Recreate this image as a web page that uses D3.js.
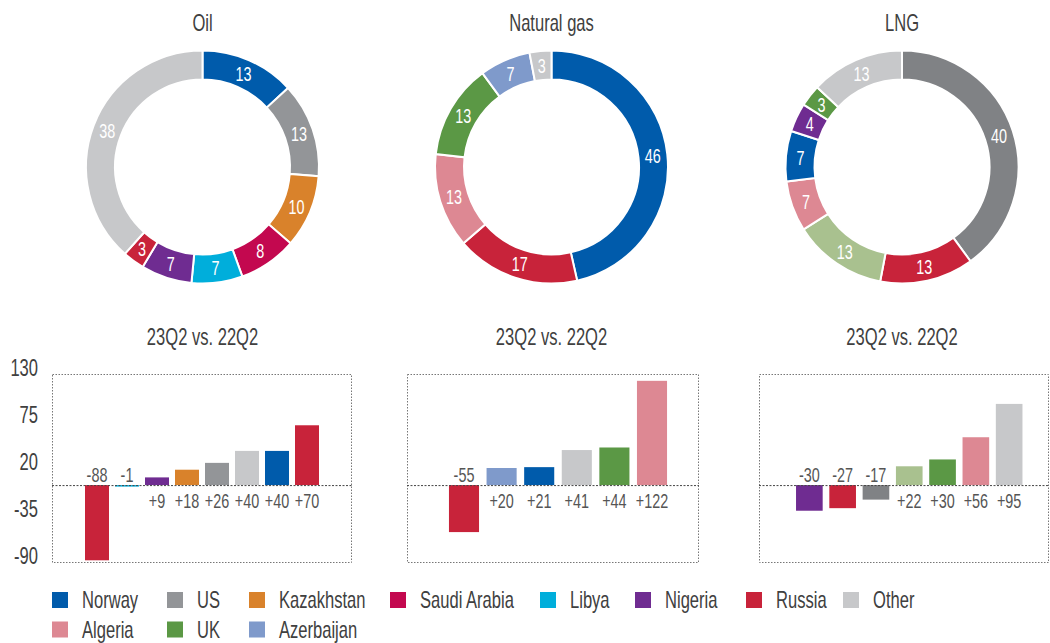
<!DOCTYPE html>
<html><head><meta charset="utf-8">
<script src="https://cdn.jsdelivr.net/npm/d3@7"></script>
<style>
html,body{margin:0;padding:0;background:#fff;}
svg{display:block;font-family:"Liberation Sans",Arial,sans-serif;}
</style></head>
<body><svg id="c" width="1050" height="643"></svg>
<script>
// ---- data ----
const colors = {
  "Norway":"#005bab","US":"#939598","US (LNG)":"#808285","Kazakhstan":"#d9822b",
  "Saudi Arabia":"#c3084f","Libya":"#00aedb","Nigeria":"#6f2c91","Russia":"#c8233a",
  "Other":"#c7c8ca","Algeria":"#dd8893","UK":"#5b9845","Azerbaijan":"#7f9acb","Other supplier":"#a9c18f"
};
const donutTitles = ["Oil","Natural gas","LNG"];
const oilShareCats = ["Norway","US","Kazakhstan","Saudi Arabia","Libya","Nigeria","Russia","Other"];
const oilShareVals = [13,13,10,8,7,7,3,38];
const gasShareCats = ["Norway","Russia","Algeria","UK","Azerbaijan","Other"];
const gasShareVals = [46,17,13,13,7,3];
const lngShareCats = ["US (LNG)","Russia","Other supplier","Algeria","Norway","Nigeria","UK","Other"];
const lngShareVals = [40,13,13,7,7,4,3,13];

const barTitle = "23Q2 vs. 22Q2";
const oilChgCats = ["Russia","Libya","Nigeria","Kazakhstan","US","Other","Norway","Russia"];
const oilChgVals = [-88,-1,9,18,26,40,40,70];
const gasChgCats = ["Russia","Azerbaijan","Norway","Other","UK","Algeria"];
const gasChgVals = [-55,20,21,41,44,122];
const lngChgCats = ["Nigeria","Russia","US (LNG)","Other supplier","UK","Algeria","Other"];
const lngChgVals = [-30,-27,-17,22,30,56,95];
const yTicks = [130,75,20,-35,-90];

const legendRow1 = ["Norway","US","Kazakhstan","Saudi Arabia","Libya","Nigeria","Russia","Other"];
const legendRow2 = ["Algeria","UK","Azerbaijan"];

// ---- layout ----
const SX = 0.72; // condensed look
const svg = d3.select("#c");
const textCol = "#404040";
const centersX = [202.5, 551.5, 902];
const donutCY = 167, Ro = 116.5, Ri = 87.5;

function place(sel, fx, fy){
  return sel.attr("transform", (d,i)=>`translate(${typeof fx==="function"?fx(d,i):fx},${typeof fy==="function"?fy(d,i):fy}) scale(${SX},1)`);
}

const shares = [[oilShareCats,oilShareVals],[gasShareCats,gasShareVals],[lngShareCats,lngShareVals]];
const pie = d3.pie().sort(null).value(d=>d.v);
const arc = d3.arc().innerRadius(Ri).outerRadius(Ro);
const labelArc = d3.arc().innerRadius((Ri+Ro)/2).outerRadius((Ri+Ro)/2);

shares.forEach(([cats,vals],i)=>{
  const data = cats.map((c,j)=>({c, v:vals[j]}));
  const g = svg.append("g").attr("transform",`translate(${centersX[i]},${donutCY})`);
  const arcs = pie(data);
  g.selectAll("path").data(arcs).join("path")
    .attr("d",arc).attr("fill",d=>colors[d.data.c])
    .attr("stroke","#fff").attr("stroke-width",2);
  place(g.selectAll("text").data(arcs).join("text"),
        d=>labelArc.centroid(d)[0], d=>labelArc.centroid(d)[1])
    .attr("text-anchor","middle").attr("dy","0.36em")
    .attr("fill","#fff").attr("font-size",20)
    .text(d=>d.data.v);
  place(svg.append("text"), centersX[i], 30.5)
    .attr("text-anchor","middle").attr("font-size",23).attr("fill",textCol)
    .text(donutTitles[i]);
});

// bar charts
const y = d3.scaleLinear().domain([-90,130]).range([562,374]);
const frames = [
  {x0:52, x1:352, r:[82,322], cats:oilChgCats, vals:oilChgVals},
  {x0:407, x1:699, r:[445.2,670.8], cats:gasChgCats, vals:gasChgVals},
  {x0:759, x1:1049, r:[792.7,1025.8], cats:lngChgCats, vals:lngChgVals}
];
frames.forEach((f,i)=>{
  const g = svg.append("g");
  place(svg.append("text"), centersX[i], 344.5)
    .attr("text-anchor","middle").attr("font-size",23).attr("fill",textCol).text(barTitle);
  g.append("rect").attr("x",f.x0+0.5).attr("y",y(130)+0.5)
    .attr("width",f.x1-f.x0-1).attr("height",y(-90)-y(130))
    .attr("fill","none").attr("stroke","#777").attr("stroke-width",1).attr("stroke-dasharray","1.5,1.5");
  const idx = d3.range(f.vals.length);
  const x = d3.scaleBand().domain(idx).range(f.r).paddingInner(0.2).paddingOuter(0.1);
  g.selectAll("rect.bar").data(idx).join("rect").attr("class","bar")
    .attr("x",j=>x(j)).attr("width",x.bandwidth())
    .attr("y",j=>y(Math.max(0,f.vals[j])))
    .attr("height",j=>Math.max(1.5,Math.abs(y(f.vals[j])-y(0))))
    .attr("fill",j=>colors[f.cats[j]]);
  g.append("line").attr("x1",f.x0).attr("x2",f.x1).attr("y1",y(0)+0.5).attr("y2",y(0)+0.5)
    .attr("stroke","#444").attr("stroke-width",1).attr("stroke-dasharray","2,1.5");
  place(g.selectAll("text.v").data(idx).join("text").attr("class","v"),
        j=>x(j)+x.bandwidth()/2, j=>f.vals[j]<0 ? y(0)-3.5 : y(0)+22.5)
    .attr("text-anchor","middle").attr("font-size",20).attr("fill","#555")
    .text(j=>f.vals[j]<0 ? String(f.vals[j]) : "+"+f.vals[j]);
  if(i===0){
    place(svg.selectAll("text.yt").data(yTicks).join("text").attr("class","yt"), 38, d=>y(d)-6)
      .attr("dy","0.36em")
      .attr("text-anchor","end").attr("font-size",23).attr("fill",textCol).text(d=>d);
  }
});

// legend
const legX = [52,167,249,390,540,635,746,843];
[[legendRow1,592],[legendRow2,621.5]].forEach(([items,yy])=>{
  items.forEach((c,k)=>{
    svg.append("rect").attr("x",legX[k]).attr("y",yy).attr("width",16).attr("height",16).attr("fill",colors[c]);
    place(svg.append("text"), legX[k]+30, yy+8).attr("dy","0.36em")
      .attr("font-size",23).attr("fill",textCol).text(c);
  });
});
</script></body></html>
